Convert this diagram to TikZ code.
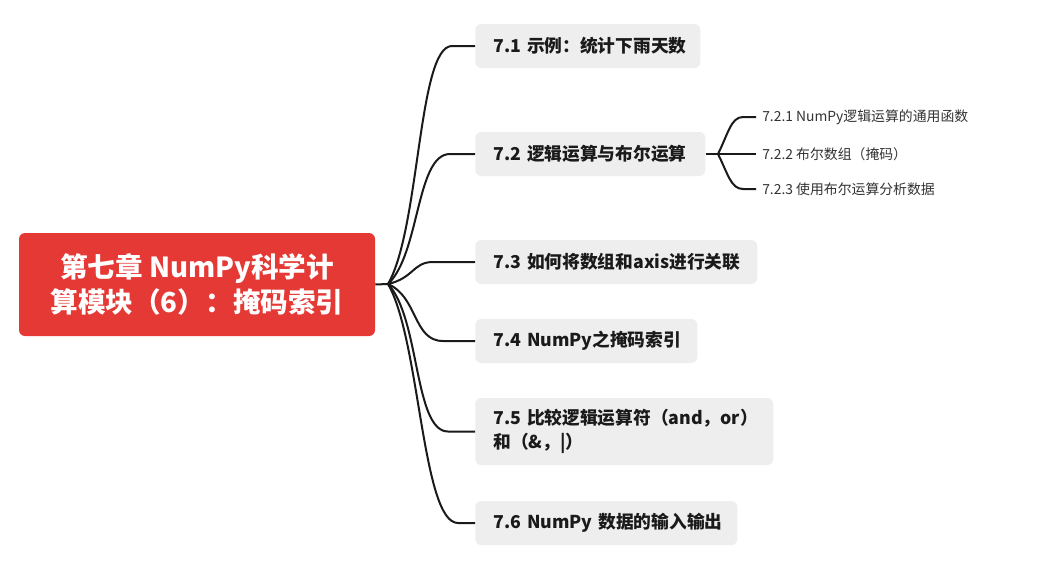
\documentclass[tikz,border=0pt]{standalone}
\usepackage{fontspec}
\setmainfont{Noto Sans CJK SC}
\usetikzlibrary{calc}
\definecolor{rootred}{RGB}{229,57,53}
\definecolor{boxgray}{RGB}{238,238,238}
\definecolor{ink}{RGB}{26,26,26}
\definecolor{subink}{RGB}{51,51,51}
\begin{document}
\begin{tikzpicture}[x=0.75pt,y=-0.75pt,
  rootbox/.style={fill=rootred, rounded corners=4.5pt, text=white, align=center,
    minimum width=267pt, minimum height=77.25pt, inner sep=0pt,
    font=\bfseries\fontsize{20.7}{26.25}\selectfont},
  topic/.style={fill=boxgray, rounded corners=4.5pt, anchor=west, align=left,
    inner xsep=13.5pt, inner ysep=0pt, minimum height=33pt, text=ink,
    font=\bfseries\fontsize{13.3}{18}\selectfont},
  subtopic/.style={anchor=west, inner xsep=4.5pt, inner ysep=0pt, text=subink,
    font=\fontsize{10.4}{13}\selectfont},
  conn/.style={draw=ink, line width=1.5pt},
]
\useasboundingbox (0,0) rectangle (1060,575);
\fill[white] (0,0) rectangle (1060,575);

% central topic
\node[rootbox] (root) at (197,284.5) {第七章 NumPy科学计\\算模块（6）：掩码索引};

% main topics (each line kept in one box so it never wraps)
\node[topic, text width=141.75pt] (t1) at (475,46) {\mbox{7.1 示例：统计下雨天数}};
\node[topic, text width=145.5pt] (t2) at (475,154) {\mbox{7.2 逻辑运算与布尔运算}};
\node[topic, text width=184.5pt] (t3) at (475,262) {\mbox{7.3 如何将数组和axis进行关联}};
\node[topic, text width=139.5pt] (t4) at (475,341) {\mbox{7.4 NumPy之掩码索引}};
\node[topic, text width=196.5pt, minimum height=50.25pt] (t5) at (475,431.5)
  {\mbox{7.5 比较逻辑运算符（and，or）}\\\mbox{和（\&，|）}};
\node[topic, text width=169.5pt] (t6) at (475,523) {\mbox{7.6 NumPy 数据的输入输出}};

% subtopics of 7.2
\node[subtopic] (s1) at (756,117) {7.2.1 NumPy逻辑运算的通用函数};
\node[subtopic] (s2) at (756,154) {7.2.2 布尔数组（掩码）};
\node[subtopic] (s3) at (756,189) {7.2.3 使用布尔运算分析数据};

% branch points
\coordinate (J) at (388,284);
\coordinate (K) at (718,154);

% connectors from the central topic
\draw[conn] (root.east) -- (J);
\draw[conn] (J) .. controls +(32,-55) and +(-34,0) .. ($(t1.west)+(-23,0)$) -- (t1.west);
\draw[conn] (J) .. controls +(32,-30) and +(-34,0) .. ($(t2.west)+(-25,0)$) -- (t2.west);
\draw[conn] (J) .. controls +(26,-6) and +(-20,0) .. ($(t3.west)+(-42,0)$) -- (t3.west);
\draw[conn] (J) .. controls +(30,13) and +(-30,0) .. ($(t4.west)+(-32,0)$) -- (t4.west);
\draw[conn] (J) .. controls +(32,34) and +(-34,0) .. ($(t5.west)+(-27,0)$) -- (t5.west);
\draw[conn] (J) .. controls +(32,55) and +(-36,0) .. ($(t6.west)+(-17,0)$) -- (t6.west);

% connectors of 7.2
\draw[conn] (t2.east) -- (K);
\draw[conn] (K) .. controls +(10,-20) and +(-12,0) .. ($(s1.west)+(-13,0)$) -- (s1.west);
\draw[conn] (K) -- (s2.west);
\draw[conn] (K) .. controls +(10,20) and +(-12,0) .. ($(s3.west)+(-13,0)$) -- (s3.west);
\end{tikzpicture}
\end{document}
